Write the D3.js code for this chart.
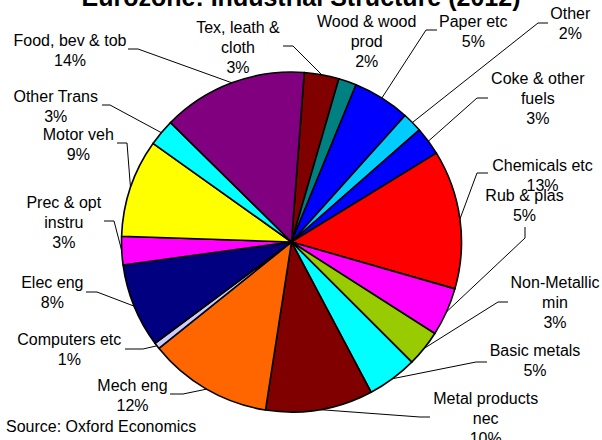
<!DOCTYPE html>
<html>
<head>
<meta charset="utf-8">
<script src="https://cdn.jsdelivr.net/npm/d3@7/dist/d3.min.js"></script>
<style>
  html, body { margin: 0; padding: 0; background: #fff; }
  svg { display: block; }
  text { font-family: "Liberation Sans", Arial, sans-serif; fill: #000; }
</style>
</head>
<body>
<svg id="chart" width="602" height="440"></svg>
<script>
// ---- Data ----
const categories = [
  ["Tex, leath &", "cloth"],
  ["Wood & wood", "prod"],
  ["Paper etc"],
  ["Other"],
  ["Coke & other", "fuels"],
  ["Chemicals etc"],
  ["Rub & plas"],
  ["Non-Metallic", "min"],
  ["Basic metals"],
  ["Metal products", "nec"],
  ["Mech eng"],
  ["Computers etc"],
  ["Elec eng"],
  ["Prec & opt", "instru"],
  ["Motor veh"],
  ["Other Trans"],
  ["Food, bev & tob"]
];
const shares = [3.3, 1.7, 5.45, 1.9, 2.7, 13.2, 4.6, 3.45, 4.75, 10.2, 11.8, 0.6, 8.0, 2.7, 9.3, 2.55, 13.8];
const colors = ["#800000", "#008080", "#0000FF", "#00CCFF", "#0000FF", "#FF0000", "#FF00FF", "#99CC00",
                "#00FFFF", "#800000", "#FF6600", "#CCCCFF", "#000080", "#FF00FF", "#FFFF00", "#00FFFF", "#800080"];
const title = "Eurozone: Industrial Structure (2012)";
const source = "Source: Oxford Economics";

// ---- Layout (label placement, leader knees) ----
const cx = 291.5, cy = 242, R = 170;
const startDeg = 4.3;
// [label centre x, first baseline y, leader start x, start y, knee x, knee y]
const labelLayout = [
  [238, 33, 283, 46, 293, 46],
  [366.7, 26.5, null],
  [473.3, 26.5, 437, 30, 426, 30],
  [570.3, 19, 548, 23, 538, 23],
  [537.8, 84.3, 488, 98, 477, 98],
  [542.5, 170.5, 488, 173, 477, 173],
  [524.5, 200.5, 525, 227, 525, 238],
  [555, 288, 508, 302, 498, 302],
  [535, 356, 487, 362, 476, 362],
  [485.7, 404.3, 430, 417, 420, 417],
  [132.5, 391, 170, 394, 183, 394],
  [69.3, 345, 125, 349, 143, 349],
  [52.3, 288.3, 86, 292, 97, 292],
  [63.8, 208.3, 104, 221, 114, 221],
  [78.3, 140, 117, 143, 127, 143],
  [55.7, 101.7, 102, 105, 110, 105],
  [70, 45.5, 128, 49, 138, 49]
];

const svg = d3.select("#chart");
const total = d3.sum(shares);

const start = startDeg * Math.PI / 180;
const pie = d3.pie().sort(null).value(d => d).startAngle(start).endAngle(start + 2 * Math.PI);
const arcs = pie(shares);
const arc = d3.arc().innerRadius(0).outerRadius(R);

const g = svg.append("g").attr("transform", `translate(${cx},${cy})`);
g.selectAll("path.slice")
  .data(arcs)
  .join("path")
  .attr("class", "slice")
  .attr("d", arc)
  .attr("fill", (d, i) => colors[i])
  .attr("stroke", "#000")
  .attr("stroke-width", 1.6)
  .attr("stroke-linejoin", "round");

// leader lines
const edgeArc = d3.arc().innerRadius(R).outerRadius(R);
arcs.forEach((a, i) => {
  const L = labelLayout[i];
  if (L[2] == null) return;
  const c = edgeArc.centroid(a);
  const pts = [[L[2], L[3]], [L[4], L[5]], [cx + c[0], cy + c[1]]];
  svg.append("path")
    .attr("d", d3.line()(pts))
    .attr("fill", "none")
    .attr("stroke", "#000")
    .attr("stroke-width", 1);
});

// labels
arcs.forEach((a, i) => {
  const L = labelLayout[i];
  const lines = categories[i].concat([Math.round(shares[i] / total * 100) + "%"]);
  const t = svg.append("text")
    .attr("x", L[0]).attr("y", L[1])
    .attr("text-anchor", "middle")
    .attr("font-size", 16);
  lines.forEach((s, k) => {
    t.append("tspan").attr("x", L[0]).attr("dy", k === 0 ? 0 : 20).text(s);
  });
});

svg.append("text")
  .attr("x", 301).attr("y", 5.5)
  .attr("text-anchor", "middle")
  .attr("font-size", 25)
  .attr("font-weight", "bold")
  .text(title);

svg.append("text")
  .attr("x", 6).attr("y", 432)
  .attr("font-size", 16)
  .text(source);
</script>
</body>
</html>
